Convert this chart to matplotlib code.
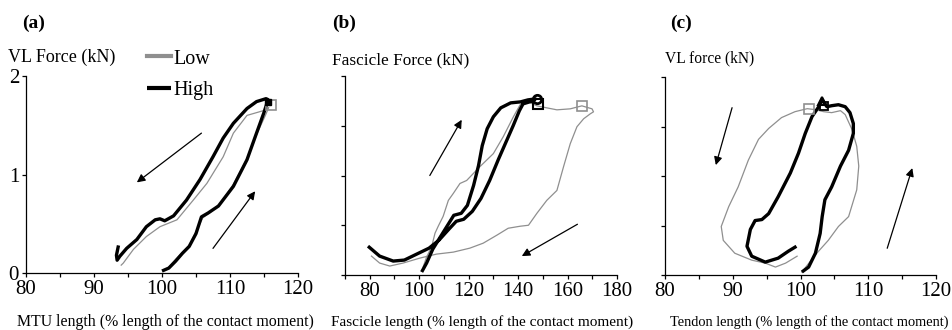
import matplotlib
matplotlib.use("Agg")
import matplotlib.pyplot as plt

plt.rcParams['font.family'] = ['Liberation Serif', 'DejaVu Serif']

# (a) MTU length vs VL force
a_high_x = [100.0, 101.0, 102.0, 103.0, 104.0, 105.0, 105.8, 106.8, 108.3, 110.5, 112.5, 113.9,
            115.0, 115.6, 115.3, 113.9, 112.5, 110.5, 109.0, 107.5, 105.6, 103.6, 101.7, 100.4,
            99.7, 99.0, 97.7, 96.3, 94.8, 93.8, 93.4, 93.3, 93.6]
a_high_y = [0.02, 0.05, 0.12, 0.20, 0.27, 0.40, 0.57, 0.61, 0.68, 0.88, 1.15, 1.42,
            1.63, 1.76, 1.77, 1.74, 1.67, 1.52, 1.37, 1.18, 0.95, 0.74, 0.58, 0.53,
            0.55, 0.54, 0.47, 0.34, 0.25, 0.17, 0.13, 0.18, 0.28]
a_low_x = [100.2, 101.0, 102.0, 103.0, 104.0, 105.0, 106.0, 107.0, 108.5, 110.5, 112.5, 114.0,
           115.2, 115.7, 115.0, 112.5, 110.5, 109.0, 106.6, 104.6, 102.2, 99.7, 97.7, 95.8,
           94.3, 94.0]
a_low_y = [0.02, 0.06, 0.14, 0.21, 0.28, 0.42, 0.56, 0.61, 0.70, 0.90, 1.16, 1.42,
           1.60, 1.68, 1.65, 1.60, 1.42, 1.18, 0.91, 0.74, 0.54, 0.47, 0.37, 0.24,
           0.10, 0.08]

# (b) fascicle length vs fascicle force
b_high_x = [101.0, 103.0, 105.5, 108.5, 111.5, 114.0, 117.0, 119.5, 122.0, 124.0, 125.5, 127.5,
            130.0, 133.0, 137.0, 141.0, 144.0, 147.0, 146.0, 142.0, 140.5, 138.0, 135.0, 132.0,
            128.5, 125.0, 121.5, 118.0, 115.0, 112.0, 108.0, 104.0, 99.0, 94.0, 89.5, 84.0, 79.3]
b_high_y = [0.03, 0.12, 0.26, 0.38, 0.50, 0.60, 0.62, 0.70, 0.90, 1.10, 1.30, 1.47,
            1.59, 1.68, 1.73, 1.74, 1.76, 1.77, 1.75, 1.72, 1.65, 1.50, 1.33, 1.16,
            0.95, 0.77, 0.64, 0.56, 0.54, 0.46, 0.35, 0.27, 0.21, 0.15, 0.14, 0.19, 0.29]
b_low_x = [101.6, 103.0, 105.0, 106.4, 107.7, 109.7, 111.8, 113.8, 116.5, 119.2, 124.6, 130.0,
           134.0, 138.1, 140.8, 144.2, 147.6, 151.6, 155.7, 161.1, 165.8, 169.9, 170.5, 169.2,
           166.5, 163.8, 161.1, 158.4, 155.7, 151.6, 147.6, 144.2, 140.8, 136.0, 131.4, 125.9,
           120.5, 113.8, 107.0, 100.3, 93.5, 88.1, 84.0, 80.7]
b_low_y = [0.08, 0.18, 0.28, 0.42, 0.49, 0.59, 0.75, 0.82, 0.92, 0.95, 1.09, 1.22,
           1.39, 1.59, 1.71, 1.74, 1.70, 1.68, 1.66, 1.67, 1.70, 1.67, 1.64, 1.62,
           1.57, 1.49, 1.32, 1.09, 0.85, 0.75, 0.62, 0.50, 0.49, 0.47, 0.40, 0.32,
           0.27, 0.23, 0.21, 0.17, 0.12, 0.09, 0.12, 0.19]

# (c) tendon length vs VL force
c_high_x = [100.2, 101.2, 102.2, 102.9, 103.2, 103.6, 104.6, 105.9, 107.1, 107.8, 107.8, 107.3,
            106.6, 105.6, 104.6, 103.9, 103.2, 102.7, 101.7, 100.7, 99.7, 98.5, 96.7, 95.3,
            94.3, 93.3, 92.6, 92.1, 92.8, 94.8, 96.7, 98.2, 99.4]
c_high_y = [0.03, 0.08, 0.22, 0.42, 0.59, 0.76, 0.89, 1.10, 1.26, 1.43, 1.53, 1.64,
            1.70, 1.72, 1.71, 1.70, 1.77, 1.70, 1.60, 1.43, 1.23, 1.03, 0.79, 0.62,
            0.56, 0.55, 0.46, 0.29, 0.19, 0.13, 0.17, 0.24, 0.29]
c_low_x = [100.2, 102.4, 104.1, 105.6, 107.1, 108.3, 108.6, 108.3, 107.6, 106.6, 105.9, 104.6,
           103.4, 102.2, 101.0, 99.2, 97.2, 95.3, 93.8, 92.3, 90.8, 89.4, 88.3, 88.6,
           90.3, 92.8, 94.8, 96.3, 97.8, 99.5]
c_low_y = [0.03, 0.22, 0.35, 0.49, 0.59, 0.86, 1.10, 1.30, 1.47, 1.62, 1.66, 1.64,
           1.65, 1.67, 1.68, 1.65, 1.59, 1.48, 1.37, 1.16, 0.89, 0.69, 0.49, 0.35,
           0.22, 0.15, 0.12, 0.08, 0.12, 0.19]

# end-point markers (x, y)
a_low_mark = (116.0, 1.71)
a_high_mark = (115.6, 1.74)
b_low_mark = (165.8, 1.70)
b_high_mark = (148.2, 1.72)
b_high_circ = (147.5, 1.77)
c_low_mark = (101.2, 1.68)
c_high_mark = (103.5, 1.71)
c_high_tri = (103.2, 1.76)

# direction arrows: (x_start, y_start, x_end, y_end)
a_arrows = [(105.8, 1.42, 96.3, 0.92), (107.5, 0.25, 113.7, 0.83)]
b_arrows = [(104.3, 1.00, 117.2, 1.56), (164.0, 0.51, 141.5, 0.19)]
c_arrows = [(89.9, 1.69, 87.5, 1.11), (112.8, 0.27, 116.5, 1.08)]

GRAY = '#8f8f8f'
W, H = 952, 330

fig = plt.figure(figsize=(9.52, 3.30), dpi=100)


def px_axes(l, r, t, b):
    return fig.add_axes([l / W, 1 - b / H, (r - l) / W, (b - t) / H])


ax_a = px_axes(26, 298, 76, 273)
ax_b = px_axes(345, 617, 76, 275)
ax_c = px_axes(665, 936, 77, 275)

panels = [
    (ax_a, a_low_x, a_low_y, a_high_x, a_high_y, a_arrows),
    (ax_b, b_low_x, b_low_y, b_high_x, b_high_y, b_arrows),
    (ax_c, c_low_x, c_low_y, c_high_x, c_high_y, c_arrows),
]

for ax, lx, ly, hx, hy, arrows in panels:
    ax.plot(lx, ly, color=GRAY, lw=0.9, label='Low')
    ax.plot(hx, hy, color='black', lw=2.4, label='High', solid_capstyle='butt')
    for x0, y0, x1, y1 in arrows:
        ax.annotate('', xy=(x1, y1), xytext=(x0, y0),
                    arrowprops=dict(arrowstyle='-|>', color='black', lw=0.9,
                                    mutation_scale=12, shrinkA=0, shrinkB=0))
    ax.set_ylim(0, 2)
    for s in ['top', 'right']:
        ax.spines[s].set_visible(False)
    ax.spines['left'].set_linewidth(0.9)
    ax.spines['bottom'].set_linewidth(0.9)
    ax.tick_params(direction='out', length=3, width=0.9, labelsize=15, pad=2)
    ax.tick_params(which='minor', direction='out', length=3, width=0.9)

# markers
ax_a.plot(*a_low_mark, marker='s', ms=7, mfc='none', mec=GRAY, mew=1.2)
ax_a.plot(*a_high_mark, marker='s', ms=4, mfc='black', mec='black')
ax_b.plot(*b_low_mark, marker='s', ms=7, mfc='none', mec=GRAY, mew=1.2)
ax_b.plot(*b_high_mark, marker='s', ms=7, mfc='none', mec='black', mew=1.5)
ax_b.plot(*b_high_circ, marker='o', ms=6, mfc='none', mec='black', mew=2)
ax_c.plot(*c_low_mark, marker='s', ms=7, mfc='none', mec=GRAY, mew=1.2)
ax_c.plot(*c_high_mark, marker='s', ms=6, mfc='none', mec='black', mew=1.3)
ax_c.plot(*c_high_tri, marker='^', ms=6, mfc='none', mec='black', mew=1.5)

# axis limits / ticks
ax_a.set_xlim(80, 120)
ax_a.set_xticks([80, 90, 100, 110, 120])
ax_a.set_xticks([85, 95, 105, 115], minor=True)
ax_a.set_yticks([0, 1, 2])

ax_b.set_xlim(70, 180)
ax_b.set_xticks([80, 100, 120, 140, 160, 180])
ax_b.set_xticks([70, 90, 110, 130, 150, 170], minor=True)
ax_b.set_yticks([0, 0.5, 1, 1.5, 2])
ax_b.set_yticklabels([])

ax_c.set_xlim(80, 120)
ax_c.set_xticks([80, 90, 100, 110, 120])
ax_c.set_xticks([85, 95, 105, 115], minor=True)
ax_c.set_yticks([0, 0.5, 1, 1.5, 2])
ax_c.set_yticklabels([])

# legend
leg = ax_a.legend(loc='upper left', bbox_to_anchor=(0.445, 1.135), frameon=False,
                  fontsize=14.5, handlelength=1.2, handletextpad=0.1,
                  labelspacing=0.6, borderpad=0, borderaxespad=0)
for line in leg.get_lines():
    line.set_linewidth(3)

# panel letters and axis titles
fig.text(22 / W, 1 - 23 / H, '(a)', fontsize=14, fontweight='bold', va='center')
fig.text(332 / W, 1 - 23 / H, '(b)', fontsize=14, fontweight='bold', va='center')
fig.text(670 / W, 1 - 23 / H, '(c)', fontsize=14, fontweight='bold', va='center')

fig.text(8 / W, 1 - 57 / H, 'VL Force (kN)', fontsize=13, va='center')
fig.text(332 / W, 1 - 60 / H, 'Fascicle Force (kN)', fontsize=12.4, va='center')
fig.text(665 / W, 1 - 58 / H, 'VL force (kN)', fontsize=11.2, va='center')

fig.text(165 / W, 1 - 322 / H, 'MTU length (% length of the contact moment)',
         fontsize=11.4, ha='center', va='center')
fig.text(482 / W, 1 - 322 / H, 'Fascicle length (% length of the contact moment)',
         fontsize=11, ha='center', va='center')
fig.text(809 / W, 1 - 322 / H, 'Tendon length (% length of the contact moment)',
         fontsize=10.4, ha='center', va='center')

fig.savefig('out.png', dpi=100)
